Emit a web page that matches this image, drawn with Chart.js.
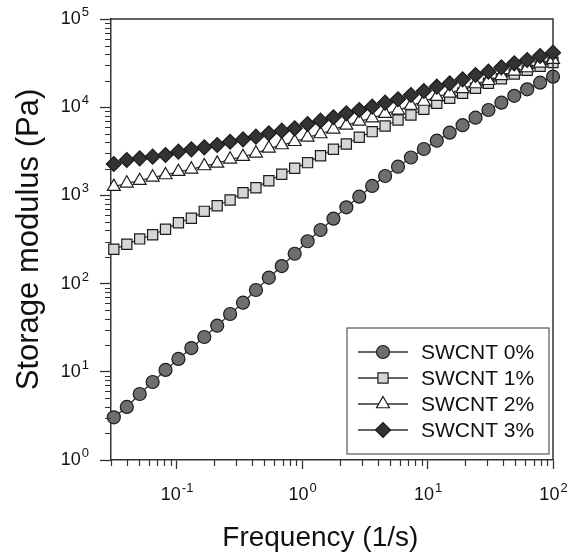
<!DOCTYPE html>
<html>
<head>
<meta charset="utf-8">
<script src="https://cdn.jsdelivr.net/npm/chart.js@4.4.1/dist/chart.umd.min.js"></script>
<style>
  html, body { margin: 0; padding: 0; background: #fff; }
  #wrap { width: 581px; height: 559px; }
</style>
</head>
<body>
<div id="wrap"><canvas id="modulusChart" width="581" height="559"></canvas></div>
<script>
// frequency sweep (1/s)
const frequency = [0.0316, 0.0401, 0.0508, 0.0644, 0.0816, 0.1034, 0.1311, 0.1662, 0.2106, 0.2670,
    0.3383, 0.4288, 0.5435, 0.6890, 0.8733, 1.107, 1.403, 1.778, 2.254, 2.857,
    3.622, 4.591, 5.818, 7.375, 9.346, 11.85, 15.02, 19.03, 24.13, 30.58,
    38.76, 49.13, 62.27, 78.93, 100];

// storage modulus (Pa)
const swcnt0 = [3.05, 4.0, 5.6, 7.66, 10.5, 14.0, 18.6, 24.8, 33.3, 45.2,
    60.7, 84.6, 116.6, 158, 218, 302, 405, 545, 733, 967,
    1279, 1660, 2115, 2690, 3360, 4170, 5140, 6250, 7600, 9300,
    11250, 13460, 15950, 18960, 22180];
const swcnt1 = [245, 279, 321, 358, 413, 490, 550, 660, 764, 887,
    1073, 1223, 1468, 1735, 2030, 2350, 2820, 3335, 3830, 4560,
    5280, 6120, 7160, 8160, 9470, 11070, 12620, 14380, 16380, 18670,
    21000, 23800, 26200, 29100, 32100];
const swcnt2 = [1256, 1372, 1468, 1604, 1703, 1857, 1977, 2155, 2310, 2565,
    2747, 3000, 3420, 3726, 4060, 4555, 4968, 5616, 6230, 6890,
    7500, 8440, 9220, 10450, 11610, 13150, 14380, 16170, 18330, 19960,
    22700, 25530, 27810, 31320, 34540];
const swcnt3 = [2270, 2520, 2634, 2748, 2872, 3130, 3333, 3510, 3726, 4060,
    4324, 4630, 5060, 5416, 5766, 6450, 7035, 7690, 8530, 9300,
    10130, 11250, 12300, 13750, 15270, 17070, 18660, 20710, 23180, 25260,
    28330, 31460, 34290, 38050, 41500];

const seriesLabels = ['SWCNT 0%', 'SWCNT 1%', 'SWCNT 2%', 'SWCNT 3%'];
const xTickExponents = [-1, 0, 1, 2];
const yTickExponents = [0, 1, 2, 3, 4, 5];

const FONT = "'Liberation Sans', Arial, sans-serif";
const AXIS = '#333';

function toPoints(values) {
    return frequency.map((f, i) => ({ x: f, y: values[i] }));
}

function series(label, values, style, radius, fill, order) {
    return {
        label: label,
        data: toPoints(values),
        showLine: true,
        borderColor: '#333',
        borderWidth: 1.3,
        pointStyle: style,
        pointRadius: radius,
        pointBackgroundColor: fill,
        pointBorderColor: '#1c1c1c',
        pointBorderWidth: 1.2,
        clip: false,
        order: order
    };
}

function logTicks(scale) {
    const ticks = [];
    for (let e = -2; e <= 5; e++) {
        for (let m = 1; m <= 9; m++) {
            const v = m * Math.pow(10, e);
            if (v >= scale.min * 0.999 && v <= scale.max * 1.001) {
                ticks.push({ value: v, major: m === 1 });
            }
        }
    }
    scale.ticks = ticks;
}

// frame, minor ticks and 10^n labels
const axisDecor = {
    id: 'axisDecor',
    afterDraw(chart) {
        const { ctx, chartArea: area } = chart;
        const xs = chart.scales.x, ys = chart.scales.y;
        ctx.save();
        ctx.strokeStyle = AXIS;
        ctx.lineWidth = 1.5;
        ctx.beginPath();
        ctx.moveTo(area.left, area.top);
        ctx.lineTo(area.right, area.top);
        ctx.lineTo(area.right, area.bottom);
        ctx.stroke();

        ctx.lineWidth = 1.2;
        ctx.beginPath();
        xs.ticks.forEach(t => {
            if (t.major) return;
            const px = Math.round(xs.getPixelForValue(t.value)) + 0.5;
            ctx.moveTo(px, area.bottom);
            ctx.lineTo(px, area.bottom + 6);
        });
        ys.ticks.forEach(t => {
            if (t.major) return;
            const py = Math.round(ys.getPixelForValue(t.value)) + 0.5;
            ctx.moveTo(area.left, py);
            ctx.lineTo(area.left - 6, py);
        });
        ctx.stroke();

        ctx.fillStyle = '#111';
        ctx.textBaseline = 'alphabetic';
        const baseFont = '18px ' + FONT, expFont = '13px ' + FONT;
        xTickExponents.forEach(e => {
            const px = xs.getPixelForValue(Math.pow(10, e));
            ctx.font = baseFont;
            const wb = ctx.measureText('10').width;
            ctx.font = expFont;
            const we = ctx.measureText(String(e)).width;
            const x0 = px - (wb + we) / 2;
            ctx.font = baseFont;
            ctx.textAlign = 'left';
            ctx.fillText('10', x0, area.bottom + 40);
            ctx.font = expFont;
            ctx.fillText(String(e), x0 + wb + 1, area.bottom + 32);
        });
        yTickExponents.forEach(e => {
            const py = ys.getPixelForValue(Math.pow(10, e));
            ctx.font = expFont;
            const we = ctx.measureText(String(e)).width;
            ctx.font = baseFont;
            const wb = ctx.measureText('10').width;
            const x0 = area.left - 23 - wb - we;
            ctx.textAlign = 'left';
            ctx.fillText('10', x0, py + 5);
            ctx.font = expFont;
            ctx.fillText(String(e), x0 + wb + 1, py - 3);
        });
        ctx.restore();
    }
};

// boxed legend with line + marker samples, inside the lower right corner
const boxLegend = {
    id: 'boxLegend',
    afterDraw(chart) {
        const { ctx, chartArea: area } = chart;
        const right = area.right - 4, bottom = area.bottom - 6;
        const w = 202, h = 126, rowH = 26;
        const left = right - w, top = bottom - h;
        ctx.save();
        ctx.fillStyle = '#fff';
        ctx.fillRect(left, top, w, h);
        ctx.strokeStyle = '#555';
        ctx.lineWidth = 1.2;
        ctx.strokeRect(left, top, w, h);
        chart.data.datasets.forEach((ds, i) => {
            const y = top + 24 + i * rowH;
            ctx.strokeStyle = ds.borderColor;
            ctx.lineWidth = ds.borderWidth;
            ctx.beginPath();
            ctx.moveTo(left + 11, y);
            ctx.lineTo(left + 61, y);
            ctx.stroke();
            ctx.fillStyle = ds.pointBackgroundColor;
            ctx.strokeStyle = ds.pointBorderColor;
            ctx.lineWidth = ds.pointBorderWidth;
            Chart.helpers.drawPoint(ctx, {
                pointStyle: ds.pointStyle,
                radius: ds.pointRadius,
                rotation: 0,
                borderWidth: ds.pointBorderWidth
            }, left + 36, y);
            ctx.fillStyle = '#111';
            ctx.font = '21px ' + FONT;
            ctx.textAlign = 'left';
            ctx.textBaseline = 'middle';
            ctx.fillText(ds.label, left + 74, y + 1);
        });
        ctx.restore();
    }
};

const ctx = document.getElementById('modulusChart').getContext('2d');

const modulusChart = new Chart(ctx, {
    type: 'scatter',
    data: {
        datasets: [
            series(seriesLabels[0], swcnt0, 'circle', 6.5, '#6e6e6e', 3),
            series(seriesLabels[1], swcnt1, 'rect', 7.2, '#d6d6d6', 2),
            series(seriesLabels[2], swcnt2, 'triangle', 7.5, '#ffffff', 1),
            series(seriesLabels[3], swcnt3, 'rectRot', 7.5, '#333333', 0)
        ]
    },
    options: {
        responsive: false,
        animation: false,
        devicePixelRatio: 1,
        layout: { padding: { left: 0, right: 28, top: 19, bottom: 0 } },
        plugins: {
            legend: { display: false },
            tooltip: { enabled: false }
        },
        scales: {
            x: {
                type: 'logarithmic',
                position: 'bottom',
                min: 0.03,
                max: 100,
                afterBuildTicks: logTicks,
                afterFit: (scale) => { scale.height = 99; },
                ticks: { display: false, autoSkip: false },
                grid: {
                    display: true,
                    drawOnChartArea: false,
                    tickLength: 9,
                    tickWidth: 1.3,
                    tickColor: (c) => (c.tick && c.tick.major) ? AXIS : 'rgba(0,0,0,0)'
                },
                border: { display: true, color: AXIS, width: 1.5 },
                title: {
                    display: true,
                    // trailing spaces nudge the centred title a little left, as in the original
                    text: 'Frequency (1/s)\u00a0\u00a0\u00a0',
                    color: '#111',
                    font: { family: FONT, size: 28 },
                    padding: { top: 0, bottom: 4 }
                }
            },
            y: {
                type: 'logarithmic',
                min: 1,
                max: 100000,
                afterBuildTicks: logTicks,
                afterFit: (scale) => { scale.width = 111; },
                ticks: { display: false, autoSkip: false },
                grid: {
                    display: true,
                    drawOnChartArea: false,
                    tickLength: 11,
                    tickWidth: 1.3,
                    tickColor: (c) => (c.tick && c.tick.major) ? AXIS : 'rgba(0,0,0,0)'
                },
                border: { display: true, color: AXIS, width: 1.5 },
                title: {
                    display: true,
                    text: 'Storage modulus (Pa)',
                    color: '#111',
                    font: { family: FONT, size: 31 },
                    padding: { top: 11, bottom: 0 }
                }
            }
        }
    },
    plugins: [axisDecor, boxLegend]
});
</script>
</body>
</html>
